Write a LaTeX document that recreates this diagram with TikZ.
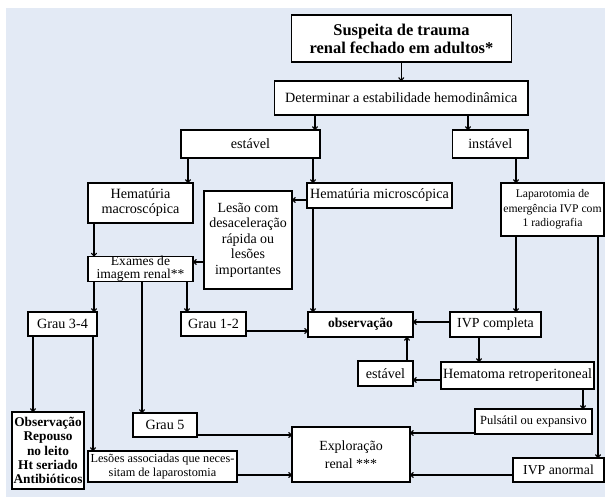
\documentclass[tikz,border=0pt]{standalone}
\usepackage{fontspec}
\setmainfont{Liberation Serif}
\usetikzlibrary{arrows.meta}
\definecolor{bg}{RGB}{227,234,245}
\begin{document}
\begin{tikzpicture}[x=1bp,y=-1bp,
  box/.style={draw, fill=white, line width=1.1bp, inner sep=0pt, outer sep=0pt, align=center, font=\fontsize{14.2}{15}\selectfont},
  arr/.style={line width=1.1bp, -{To[length=3.8bp,width=6bp]}}]
\useasboundingbox (0,0) rectangle (605,498);
\fill[bg] (6,8) rectangle (605,497);
% nodes
\node[box, minimum width=220bp, minimum height=47bp, font=\bfseries\fontsize{16.5}{18}\selectfont] (title) at (401.5,38.5) {Suspeita de trauma\\renal fechado em adultos*};
\node[box, minimum width=253.5bp, minimum height=34bp] (det) at (401.25,98) {Determinar a estabilidade hemodinâmica};
\node[box, minimum width=139bp, minimum height=28bp] (est) at (250.5,144) {estável};
\node[box, minimum width=75.5bp, minimum height=28bp] (inst) at (490.25,144) {instável};
\node[box, minimum width=105bp, minimum height=40bp, font=\fontsize{14.2}{15}\selectfont] (hmac) at (140.5,203) {Hematúria\\macroscópica};
\node[box, minimum width=88bp, minimum height=98bp, font=\fontsize{14}{15.5}\selectfont] (lesao) at (248,240) {Lesão com\\desaceleração\\rápida ou\\lesões\\importantes};
\node[box, minimum width=145bp, minimum height=25bp] (hmic) at (379.5,195.5) {Hematúria microscópica};
\node[box, minimum width=103bp, minimum height=53bp, font=\fontsize{11.7}{14.5}\selectfont] (lap) at (552.5,209.5) {Laparotomia de\\emergência IVP com\\1 radiografia};
\node[box, minimum width=105bp, minimum height=24bp, font=\fontsize{13.6}{12.6}\selectfont] (exames) at (140.5,269) {Exames de\\imagem renal**};
\node[box, minimum width=69bp, minimum height=24bp] (g34) at (62.5,324) {Grau 3-4};
\node[box, minimum width=65bp, minimum height=24bp] (g12) at (213.5,324) {Grau 1-2};
\node[box, minimum width=105bp, minimum height=25bp, font=\bfseries\fontsize{13.6}{15}\selectfont] (obs) at (360.5,324.5) {observação};
\node[box, minimum width=91bp, minimum height=25bp, font=\fontsize{13.9}{15}\selectfont] (ivpc) at (495.5,324.5) {IVP completa};
\node[box, minimum width=55bp, minimum height=25bp] (est2) at (385.5,373.5) {estável};
\node[box, minimum width=153bp, minimum height=27bp] (hemat) at (517.5,375.5) {Hematoma retroperitoneal};
\node[box, minimum width=117bp, minimum height=25bp, font=\fontsize{12.5}{14}\selectfont] (puls) at (533.5,421.5) {Pulsátil ou expansivo};
\node[box, minimum width=118bp, minimum height=55bp, font=\fontsize{14}{18}\selectfont] (expl) at (351,454.5) {Exploração\\renal ***};
\node[box, minimum width=91bp, minimum height=24bp, font=\fontsize{13.8}{15}\selectfont] (ivpa) at (558.5,470) {IVP anormal};
\node[box, minimum width=64bp, minimum height=24bp] (g5) at (165,425) {Grau 5};
\node[box, minimum width=72bp, minimum height=77bp, font=\bfseries\fontsize{13.4}{14.5}\selectfont] (obsb) at (48,450.5) {Observação\\Repouso\\no leito\\Ht seriado\\Antibióticos};
\node[box, minimum width=149bp, minimum height=31bp, font=\fontsize{12.3}{14}\selectfont] (lesa) at (162.5,466.5) {Lesões associadas que neces-\\sitam de laparostomia};
% helper coordinates
\coordinate (k1) at (315,0);
\coordinate (k2) at (468,0);
\coordinate (k3) at (188,0);
\coordinate (k4) at (313,0);
\coordinate (k5) at (516,0);
\coordinate (k6) at (598,0);
\coordinate (k7) at (0,200);
\coordinate (k8) at (94,0);
\coordinate (k9) at (0,262);
\coordinate (k10) at (142,0);
\coordinate (k11) at (187,0);
\coordinate (k12) at (0,331);
\coordinate (k13) at (0,322);
\coordinate (k14) at (479,0);
\coordinate (k15) at (0,380);
\coordinate (k16) at (407,0);
\coordinate (k17) at (583,0);
\coordinate (k18) at (0,433);
\coordinate (k19) at (0,475);
\coordinate (k20) at (33,0);
\coordinate (k21) at (93,0);
\coordinate (k22) at (0,435);
% connectors
\draw[arr] (title.south -| det.north) -- (det.north);
\draw[arr] (det.south -| k1) -- (est.north -| k1);
\draw[arr] (det.south -| k2) -- (inst.north -| k2);
\draw[arr] (est.south -| k3) -- (hmac.north -| k3);
\draw[arr] (est.south -| k4) -- (hmic.north -| k4);
\draw[arr] (inst.south -| k5) -- (lap.north -| k5);
\draw[arr] (hmic.west |- k7) -- (lesao.east |- k7);
\draw[arr] (hmac.south -| k8) -- (exames.north -| k8);
\draw[arr] (lesao.west |- k9) -- (exames.east |- k9);
\draw[arr] (exames.south -| k8) -- (g34.north -| k8);
\draw[arr] (exames.south -| k10) -- (g5.north -| k10);
\draw[arr] (exames.south -| k11) -- (g12.north -| k11);
\draw[arr] (hmic.south -| k4) -- (obs.north -| k4);
\draw[arr] (g12.east |- k12) -- (obs.west |- k12);
\draw[arr] (lap.south -| k5) -- (ivpc.north -| k5);
\draw[arr] (lap.south -| k6) -- (ivpa.north -| k6);
\draw[arr] (ivpc.west |- k13) -- (obs.east |- k13);
\draw[arr] (ivpc.south -| k14) -- (hemat.north -| k14);
\draw[arr] (hemat.west |- k15) -- (est2.east |- k15);
\draw[arr] (est2.north -| k16) -- (obs.south -| k16);
\draw[arr] (hemat.south -| k17) -- (puls.north -| k17);
\draw[arr] (puls.west |- k18) -- (expl.east |- k18);
\draw[arr] (ivpa.west |- k19) -- (expl.east |- k19);
\draw[arr] (g34.south -| k20) -- (obsb.north -| k20);
\draw[arr] (g34.south -| k21) -- (lesa.north -| k21);
\draw[arr] (g5.east |- k22) -- (expl.west |- k22);
\draw[arr] (lesa.east |- k19) -- (expl.west |- k19);
\end{tikzpicture}
\end{document}
